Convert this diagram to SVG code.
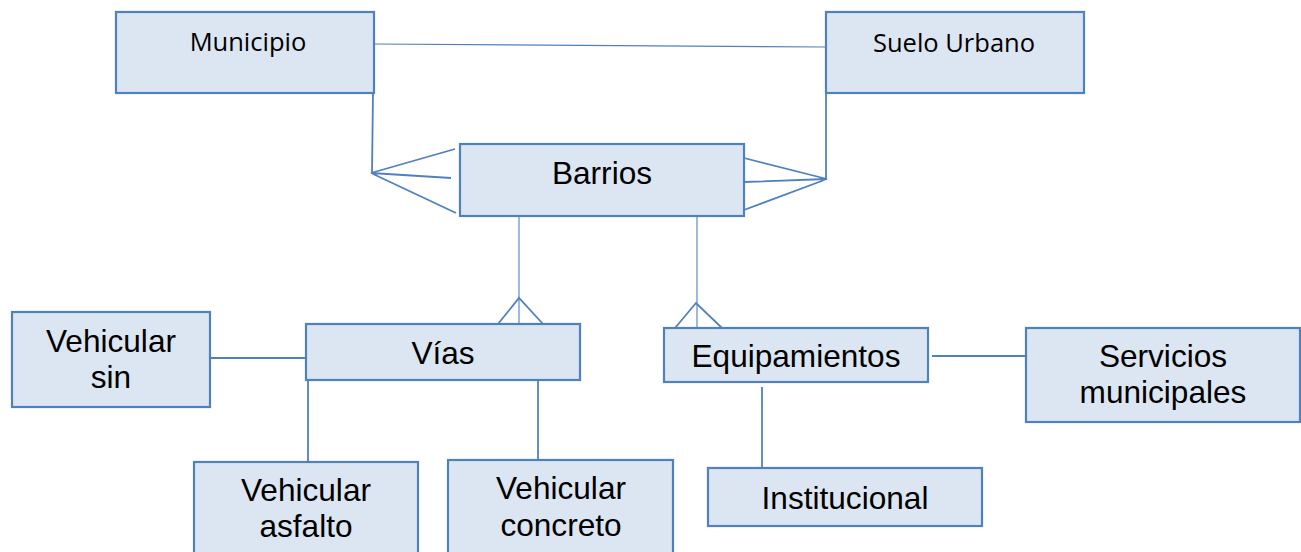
<svg xmlns="http://www.w3.org/2000/svg" width="1301" height="552" viewBox="0 0 1301 552">
<style>
.box{fill:#dce6f2;stroke:#4f81bd;stroke-width:2.2}
.t{font-family:"Liberation Sans",Arial,sans-serif;font-size:31.6px;fill:#000;text-anchor:middle}
.s{font-family:"Open Sans","Noto Sans",sans-serif;font-size:25.5px;fill:#000;text-anchor:middle}
.c{stroke:#4f81bd;stroke-width:1.8;fill:none}
.thin{stroke:#4f81bd;stroke-width:1.1;fill:none}
</style>
<rect width="1301" height="552" fill="#fff"/>
<g id="connectors">
<line class="thin" x1="374" y1="44" x2="826" y2="47"/>
<line class="c" x1="373" y1="93" x2="372" y2="173"/>
<path class="c" d="M455 149 L371 173 L451 178 M371 173 L456 213"/>
<line class="c" x1="826" y1="93" x2="826" y2="179"/>
<path class="c" d="M744 158 L827 179 L744 182 M827 179 L744 210"/>
<line class="thin" x1="519" y1="216" x2="519" y2="324"/>
<path class="c" d="M498 324 L519 298 L543 324"/>
<line class="thin" x1="697" y1="216" x2="697" y2="328"/>
<path class="c" d="M675 328 L696 303 L722 328"/>
<line class="c" x1="210" y1="358" x2="305" y2="358"/>
<line class="c" x1="308" y1="380" x2="308" y2="462"/>
<line class="c" x1="538" y1="380" x2="538" y2="461"/>
<line class="c" x1="932" y1="356" x2="1026" y2="356"/>
<line class="c" x1="762" y1="387" x2="762" y2="468"/>
</g>
<g id="municipio"><rect class="box" x="116" y="12" width="258" height="81"/><text class="s" x="248" y="51">Municipio</text></g>
<g id="suelo-urbano"><rect class="box" x="826" y="12" width="258" height="81"/><text class="s" x="954" y="52">Suelo Urbano</text></g>
<g id="barrios"><rect class="box" x="460" y="144" width="284" height="72"/><text class="t" x="602" y="184">Barrios</text></g>
<g id="vias"><rect class="box" x="306" y="324" width="274" height="56"/><text class="t" x="443" y="364">Vías</text></g>
<g id="equipamientos"><rect class="box" x="664" y="328" width="264" height="54"/><text class="t" x="796" y="367">Equipamientos</text></g>
<g id="vehicular-sin"><rect class="box" x="12" y="312" width="198" height="95"/><text class="t" x="111" y="352">Vehicular</text><text class="t" x="111" y="388">sin</text></g>
<g id="vehicular-asfalto"><rect class="box" x="194" y="462" width="224" height="100"/><text class="t" x="306" y="501">Vehicular</text><text class="t" x="306" y="537">asfalto</text></g>
<g id="vehicular-concreto"><rect class="box" x="448" y="460" width="225" height="102"/><text class="t" x="561" y="499">Vehicular</text><text class="t" x="561" y="536">concreto</text></g>
<g id="institucional"><rect class="box" x="708" y="468" width="274" height="58"/><text class="t" x="845" y="509">Institucional</text></g>
<g id="servicios-municipales"><rect class="box" x="1026" y="328" width="274" height="94"/><text class="t" x="1163" y="367">Servicios</text><text class="t" x="1163" y="403">municipales</text></g>
</svg>
